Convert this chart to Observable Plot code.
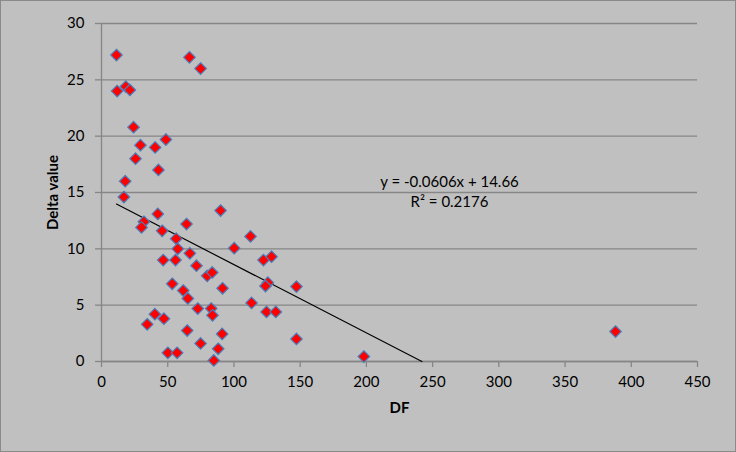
<!DOCTYPE html>
<html>
<head>
<meta charset="utf-8">
<script src="https://cdn.jsdelivr.net/npm/d3@7"></script>
<script src="https://cdn.jsdelivr.net/npm/@observablehq/plot@0.6"></script>
<style>
  html, body { margin: 0; padding: 0; background: #c0c0c0; }
  #chart svg { display: block; outline: 1px solid #8a8a8a; outline-offset: -1px; }
</style>
</head>
<body>
<div id="chart"></div>
<script>
const dfValues = [11.3, 66.4, 74.8, 11.8, 18.4, 21.4, 24.2, 29.4, 40.5, 48.6, 25.7, 43.0, 17.9,
  16.9, 42.5, 32.0, 30.2, 64.2, 89.9, 45.8, 56.4, 57.6, 66.7, 46.6, 55.9, 71.7, 79.8, 83.6,
  91.4, 53.4, 61.7, 65.2, 72.7, 82.8, 83.8, 40.3, 47.1, 34.5, 64.7, 91.1, 74.8, 88.1, 50.1,
  57.1, 84.8, 100.2, 112.5, 122.3, 128.4, 125.6, 123.8, 147.2, 113.3, 124.6, 131.6, 147.2,
  198.1, 388.1];
const deltaValues = [27.2, 27.0, 26.0, 24.0, 24.4, 24.1, 20.8, 19.2, 19.0, 19.7, 18.0, 17.0, 16.0,
  14.6, 13.1, 12.4, 11.9, 12.2, 13.4, 11.6, 10.9, 10.0, 9.6, 9.0, 9.0, 8.5, 7.6, 7.9,
  6.5, 6.9, 6.3, 5.6, 4.7, 4.7, 4.1, 4.2, 3.8, 3.3, 2.75, 2.45, 1.6, 1.13, 0.77,
  0.77, 0.09, 10.06, 11.1, 9.0, 9.3, 7.0, 6.7, 6.65, 5.2, 4.4, 4.4, 2.0,
  0.44, 2.66];
const xTicks = [0, 50, 100, 150, 200, 250, 300, 350, 400, 450];
const yTicks = [0, 5, 10, 15, 20, 25, 30];
const trendSlope = -0.0606;
const trendIntercept = 14.66;
const trendR2 = 0.2176;

const points = dfValues.map((d, i) => ({df: d, delta: deltaValues[i]}));
const xStart = d3.min(dfValues);
const xEnd = -trendIntercept / trendSlope;
const trendLine = [xStart, xEnd].map(x => ({df: x, delta: trendSlope * x + trendIntercept}));
const eqText = `y = ${trendSlope}x + ${trendIntercept}`;
const r2Text = `R² = ${trendR2}`;

const gray = "#868686";
const fs = 15;
const chart = Plot.plot({
  width: 736,
  height: 452,
  marginLeft: 101,
  marginRight: 39,
  marginTop: 23,
  marginBottom: 91,
  style: {background: "#c0c0c0", fontFamily: "Lato, 'Open Sans', sans-serif", fontSize: "15px", color: "black"},
  x: {domain: [0, 450]},
  y: {domain: [0, 30]},
  marks: [
    Plot.gridY(yTicks, {stroke: gray, strokeOpacity: 1, strokeWidth: 1.3}),
    Plot.axisY(yTicks, {tickSize: 6, tickPadding: 11, stroke: gray, fill: "black", strokeWidth: 1.3, label: null, fontSize: fs}),
    Plot.axisX(xTicks, {tickSize: 6, tickPadding: 9, stroke: gray, fill: "black", strokeWidth: 1.3, label: null, fontSize: fs}),
    Plot.ruleX([0], {stroke: gray, strokeWidth: 1.3}),
    Plot.ruleY([0], {stroke: gray, strokeWidth: 1.3}),
    Plot.line(trendLine, {x: "df", y: "delta", stroke: "black", strokeWidth: 1.2}),
    Plot.dot(points, {x: "df", y: "delta", symbol: "diamond2", r: 5.2, fill: "#ff0000", stroke: "#4a7ebb", strokeWidth: 1.2}),
    Plot.text([eqText], {frameAnchor: "top-left", dx: 348, dy: 159, textAnchor: "middle", lineAnchor: "middle", fontSize: fs, fill: "black"}),
    Plot.text([r2Text], {frameAnchor: "top-left", dx: 348, dy: 178.5, textAnchor: "middle", lineAnchor: "middle", fontSize: fs, fill: "black"}),
    Plot.text(["DF"], {frameAnchor: "bottom", dy: 47, lineAnchor: "middle", fontWeight: "bold", fontSize: fs, fill: "black"}),
    Plot.text(["Delta value"], {frameAnchor: "left", dx: -48, rotate: -90, textAnchor: "middle", lineAnchor: "middle", fontWeight: "bold", fontSize: fs, fill: "black"})
  ]
});
document.getElementById("chart").append(chart);
</script>
</body>
</html>
